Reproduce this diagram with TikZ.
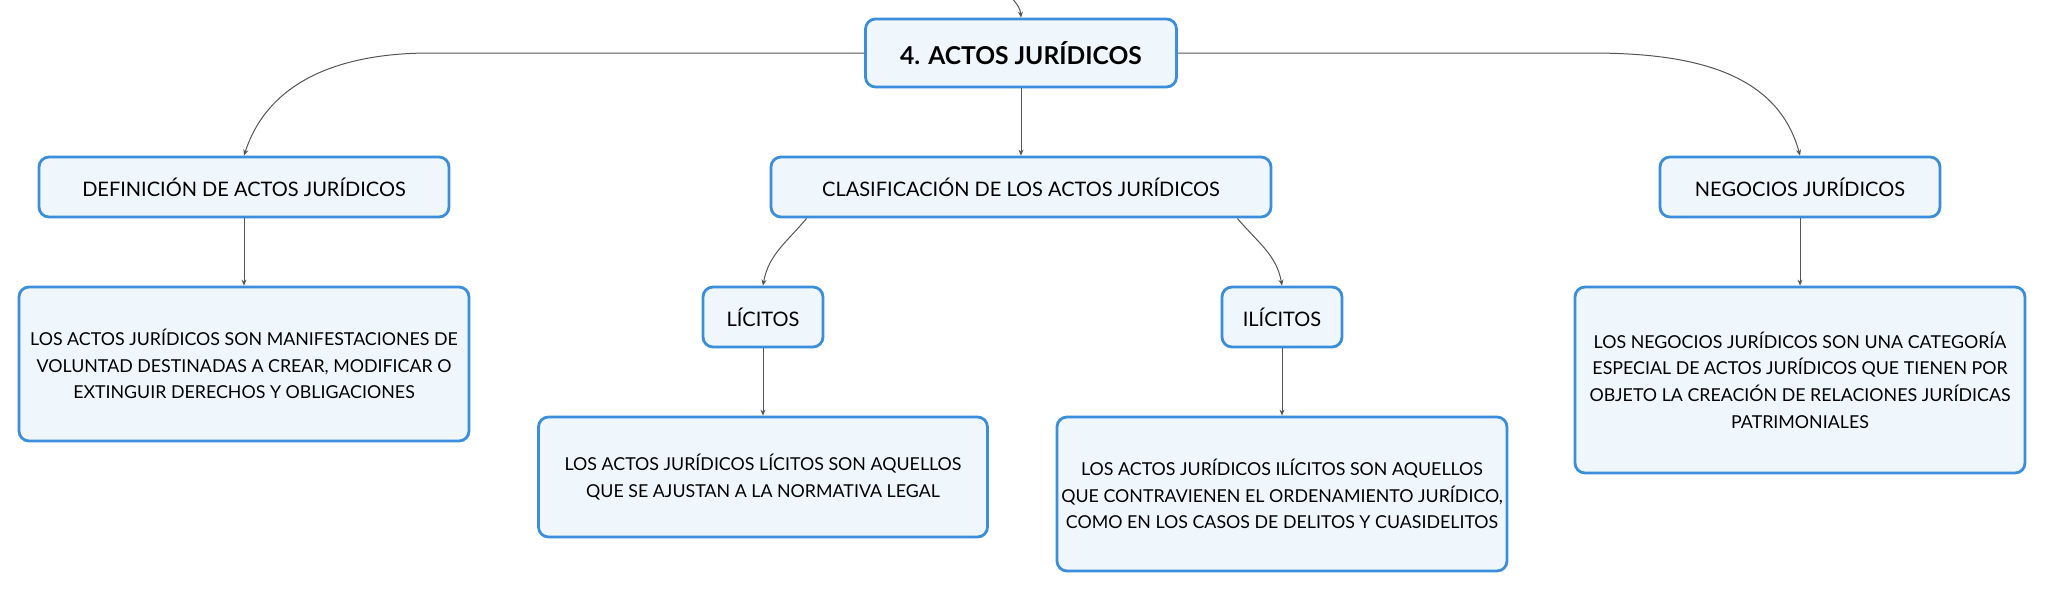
\documentclass[tikz,border=0pt]{standalone}
\usepackage{fontspec}
\setmainfont{Lato}
\usetikzlibrary{positioning,arrows.meta}
\definecolor{boxline}{HTML}{3A8EDB}
\definecolor{boxfill}{HTML}{EFF7FD}
\definecolor{wire}{HTML}{555555}
\begin{document}
\begin{tikzpicture}[x=0.5pt,y=-0.5pt,on grid,
   box/.style={draw=boxline,fill=boxfill,line width=1.4pt,rounded corners=5pt,
     align=center,inner sep=1pt,font=\fontsize{8.9}{13.3}\selectfont},
   head/.style={box,minimum height=30pt,font=\fontsize{10}{12}\selectfont},
   conn/.style={draw=wire,line width=0.5pt,-{Stealth[length=3pt,width=2.5pt]}}]
   \useasboundingbox (0,0) rectangle (2046,591);
   \node[box,minimum width=155.5pt,minimum height=34pt,font=\fontsize{12.3}{15}\selectfont\bfseries] (root) at (1021,53) {4. ACTOS JURÍDICOS};
   \node[head,minimum width=205pt] (def) [below left=67pt and 388.5pt of root] {DEFINICIÓN DE ACTOS JURÍDICOS};
   \node[head,minimum width=250pt] (clas) [below=67pt of root] {CLASIFICACIÓN DE LOS ACTOS JURÍDICOS};
   \node[head,minimum width=140pt] (neg) [below right=67pt and 389.5pt of root] {NEGOCIOS JURÍDICOS};
   \node[box,minimum width=225pt,minimum height=77pt] (deftxt) [below=88.5pt of def]
     {LOS ACTOS JURÍDICOS SON MANIFESTACIONES DE\\VOLUNTAD DESTINADAS A CREAR, MODIFICAR O\\EXTINGUIR DERECHOS Y OBLIGACIONES};
   \node[head,minimum width=60pt] (lic) [below left=65pt and 129pt of clas] {LÍCITOS};
   \node[head,minimum width=60pt] (ilic) [below right=65pt and 130.5pt of clas] {ILÍCITOS};
   \node[box,minimum width=224.5pt,minimum height=60pt] (lictxt) [below=80pt of lic]
     {LOS ACTOS JURÍDICOS LÍCITOS SON AQUELLOS\\QUE SE AJUSTAN A LA NORMATIVA LEGAL};
   \node[box,minimum width=225pt,minimum height=77pt] (ilictxt) [below=88.5pt of ilic]
     {LOS ACTOS JURÍDICOS ILÍCITOS SON AQUELLOS\\QUE CONTRAVIENEN EL ORDENAMIENTO JURÍDICO,\\COMO EN LOS CASOS DE DELITOS Y CUASIDELITOS};
   \node[box,minimum width=225pt,minimum height=93pt] (negtxt) [below=96.5pt of neg]
     {LOS NEGOCIOS JURÍDICOS SON UNA CATEGORÍA\\ESPECIAL DE ACTOS JURÍDICOS QUE TIENEN POR\\OBJETO LA CREACIÓN DE RELACIONES JURÍDICAS\\PATRIMONIALES};
   \coordinate (up) at (1004,-14);
   \draw[conn] (up) to[out=-65,in=95] (root.north);
   \draw[conn] (root.west) -- ([xshift=93pt]def.north |- root.west) to[out=180,in=72] (def.north);
   \draw[conn] (root.east) -- ([xshift=-105pt]neg.north |- root.east) to[out=0,in=105] (neg.north);
   \draw[conn] (root) -- (clas);
   \draw[conn] ([xshift=18.5pt]clas.south west) to[out=-130,in=80] (lic.north);
   \draw[conn] ([xshift=-17.5pt]clas.south east) to[out=-50,in=100] (ilic.north);
   \draw[conn] (def) -- (deftxt);
   \draw[conn] (lic) -- (lictxt);
   \draw[conn] (ilic) -- (ilictxt);
   \draw[conn] (neg) -- (negtxt);
\end{tikzpicture}
\end{document}
